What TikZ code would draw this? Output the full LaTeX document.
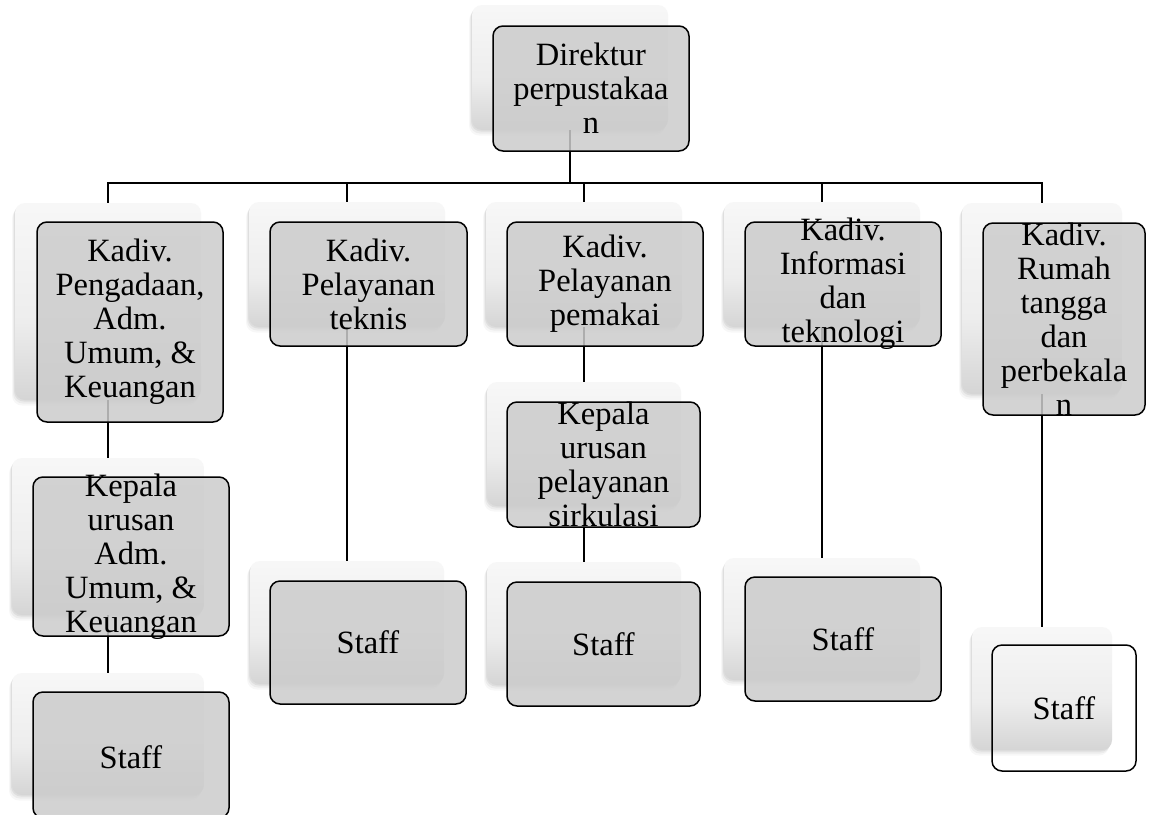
\documentclass[tikz,border=0pt]{standalone}
\usepackage{fontspec}
\setmainfont{Liberation Serif}
\usetikzlibrary{shadows}
\pgfdeclareverticalshading{panelshade}{100bp}{color(0bp)=(black!27); color(22bp)=(black!18); color(45bp)=(black!7); color(75bp)=(black!3); color(100bp)=(black!2)}
\newcommand\panelat[6]{%
  \pgfmathsetmacro\bxw{#5-#3}\pgfmathsetmacro\bxh{#6-#4}%
  \pgfmathsetmacro\bxc{(#3+#5)/2}\pgfmathsetmacro\byc{(#4+#6)/2}%
  \node[#1,minimum width=\bxw pt,minimum height=\bxh pt] (#2) at (\bxc,\byc)}
\tikzset{
  backp/.style={rounded corners=10pt, shading=panelshade, draw=none, inner sep=0pt,
    drop shadow={shadow xshift=-1pt, shadow yshift=-1.5pt, opacity=0.12},
    drop shadow={shadow xshift=-2pt, shadow yshift=-3.5pt, opacity=0.09},
    drop shadow={shadow xshift=-3pt, shadow yshift=-5.5pt, opacity=0.06}},
  frontb/.style={rounded corners=10pt, draw=black, line width=1.5pt, fill=black!20,
    fill opacity=0.85, inner sep=0pt},
  emptyb/.style={rounded corners=10pt, draw=black, line width=1.5pt, fill=none, inner sep=0pt},
  txt/.style={inner sep=0pt, align=center, text=black, font=\fontsize{32.5}{34}\selectfont},
  conn/.style={draw=black, line width=2.2pt}
}
\begin{document}
\begin{tikzpicture}[x=1pt,y=-1pt]
\useasboundingbox (0,0) rectangle (1150,814);
\clip (0,0) rectangle (1150,814);
\fill[white] (0,0) rectangle (1150,814);

% back panels
\panelat{backp}{bdir}{472}{5}{668}{130} {};
\panelat{backp}{bk1}{15}{203}{201}{400} {};
\panelat{backp}{bk2}{249}{202}{445}{327} {};
\panelat{backp}{bk3}{486}{202}{682}{327} {};
\panelat{backp}{bk4}{724}{202}{920}{327} {};
\panelat{backp}{bk5}{962}{203}{1122}{394} {};
\panelat{backp}{bkp1}{12}{458}{204}{615} {};
\panelat{backp}{bkp3}{487}{382}{681}{506} {};
\panelat{backp}{bs1}{12}{673}{204}{795} {};
\panelat{backp}{bs2}{250}{561}{444}{684} {};
\panelat{backp}{bs3}{487}{562}{681}{685} {};
\panelat{backp}{bs4}{724}{558}{920}{680} {};
\panelat{backp}{bs5}{972}{627}{1112}{750} {};

% connectors
\coordinate (bus) at (570,183);
\draw[conn] (bdir.south) -- (bus);
\draw[conn] (bus) -| (bk1.north);
\draw[conn] (bus) -| (bk2.north);
\draw[conn] (bus) -| (bk3.north);
\draw[conn] (bus) -| (bk4.north);
\draw[conn] (bus) -| (bk5.north);
\draw[conn] (bk1.south) -- (bkp1.north);
\draw[conn] (bkp1.south) -- (bs1.north);
\draw[conn] (bk2.south) -- (bs2.north);
\draw[conn] (bk3.south) -- (bkp3.north);
\draw[conn] (bkp3.south) -- (bs3.north);
\draw[conn] (bk4.south) -- (bs4.north);
\draw[conn] (bk5.south) -- (bs5.north);

% front boxes
\panelat{frontb}{fdir}{493}{26}{689}{151} {};
\panelat{frontb}{fk1}{37}{222}{223}{422} {};
\panelat{frontb}{fk2}{270}{222}{467}{346} {};
\panelat{frontb}{fk3}{507}{222}{703}{346} {};
\panelat{frontb}{fk4}{745}{222}{941}{346} {};
\panelat{frontb}{fk5}{983}{223}{1145}{415} {};
\panelat{frontb}{fkp1}{33}{477}{229}{636} {};
\panelat{frontb}{fkp3}{507}{402}{700}{527} {};
\panelat{frontb}{fs1}{33}{692}{229}{818} {};
\panelat{frontb}{fs2}{270}{581}{466}{704} {};
\panelat{frontb}{fs3}{507}{582}{700}{706} {};
\panelat{frontb}{fs4}{745}{577}{941}{701} {};
\panelat{emptyb}{fs5}{992}{645}{1136}{771} {};

% texts
\node[txt] (tdir) at (fdir.center) {Direktur\\perpustakaa\\n};
\node[txt] (tk1) at (fk1.center) {Kadiv.\\Pengadaan,\\Adm.\\Umum, \&\\Keuangan};
\node[txt] (tk2) at (fk2.center) {Kadiv.\\Pelayanan\\teknis};
\node[txt] (tk3) at (fk3.center) {Kadiv.\\Pelayanan\\pemakai};
\node[txt] (tk4) at (fk4.center) {Kadiv.\\Informasi\\dan\\teknologi};
\node[txt] (tk5) at (fk5.center) {Kadiv.\\Rumah\\tangga\\dan\\perbekala\\n};
\node[txt] (tkp1) at (fkp1.center) {Kepala\\urusan\\Adm.\\Umum, \&\\Keuangan};
\node[txt] (tkp3) at (fkp3.center) {Kepala\\urusan\\pelayanan\\sirkulasi};
\node[txt] (ts1) at ([yshift=-2pt]fs1.center) {Staff};
\node[txt] (ts2) at (fs2.center) {Staff};
\node[txt] (ts3) at (fs3.center) {Staff};
\node[txt] (ts4) at (fs4.center) {Staff};
\node[txt] (ts5) at (fs5.center) {Staff};
\end{tikzpicture}
\end{document}
